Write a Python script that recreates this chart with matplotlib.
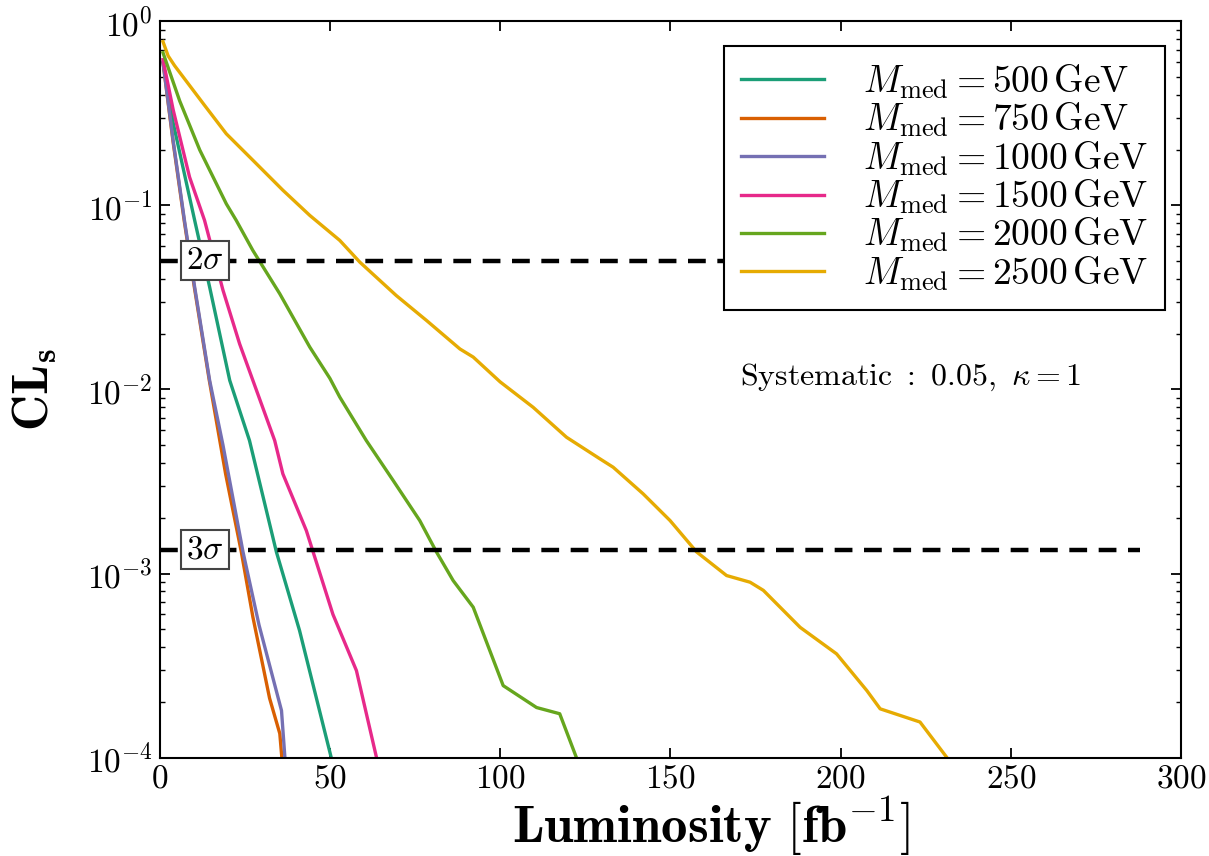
import matplotlib
matplotlib.use("Agg")
import matplotlib.pyplot as plt

plt.rcParams["font.family"] = "serif"
plt.rcParams["font.serif"] = ["cmr10"]
plt.rcParams["mathtext.fontset"] = "cm"
plt.rcParams["axes.formatter.use_mathtext"] = True

# luminosity [fb^-1] and CLs, one pair per mediator mass
lumi_500 = [1, 4, 10.3, 14.7, 20.6, 26.4, 34.3, 41.1, 50.4, 51.0]
cls_500 = [0.60, 0.28, 0.083, 0.036, 0.0112, 0.00528, 0.00131, 0.00049, 0.0001, 0.00009]

lumi_750 = [1, 4, 7.3, 10.2, 14.6, 19.4, 24.0, 27.4, 32.3, 35.3, 35.9, 36.3]
cls_750 = [0.60, 0.219, 0.081, 0.036, 0.0112, 0.00347, 0.00131, 0.00058, 0.00021, 0.000135, 0.0001, 0.00009]

lumi_1000 = [1, 4, 7.3, 10.3, 14.7, 18.6, 24.5, 29.2, 35.8, 36.8, 37.0]
cls_1000 = [0.60, 0.224, 0.083, 0.036, 0.0112, 0.0050, 0.00131, 0.000525, 0.00018, 0.0001, 0.00009]

lumi_1500 = [1, 4, 8.8, 13.2, 18.6, 23.5, 27.4, 33.8, 36.2, 43.1, 50.9, 57.8, 63.7, 64.3]
cls_1500 = [0.62, 0.33, 0.1426, 0.083, 0.0347, 0.0177, 0.0112, 0.00528, 0.00348, 0.00171,
            0.00060, 0.000297, 0.0001, 0.00009]

lumi_2000 = [1, 5.9, 11.8, 19.6, 22.5, 27.4, 35.3, 44.1, 50, 52.9, 60.7, 68.6, 76.4, 81.3,
             86.2, 92.1, 100.9, 110.7, 117.5, 122.4, 123.0]
cls_2000 = [0.676, 0.37, 0.20, 0.102, 0.083, 0.0569, 0.0331, 0.0170, 0.0115, 0.0091, 0.00528,
            0.0032, 0.00194, 0.00131, 0.000916, 0.000656, 0.000246, 0.000187, 0.000173, 0.0001, 0.00009]

lumi_2500 = [1, 2.5, 4.4, 13.2, 19.6, 27.4, 36.2, 44.1, 52.9, 58.8, 69.5, 78.4, 88.2, 92.1, 100,
             109.7, 119.5, 129.3, 133.2, 142, 149.9, 157.7, 166.5, 173.4, 177.3, 188.1, 198.8,
             207.7, 211.6, 223.3, 231.2, 232.0]
cls_2500 = [0.776, 0.65, 0.575, 0.35, 0.245, 0.176, 0.121, 0.0883, 0.0646, 0.0492, 0.0324, 0.0237,
            0.0166, 0.0150, 0.0110, 0.0080, 0.0055, 0.0042, 0.00378, 0.00271, 0.00194, 0.00131,
            0.000975, 0.000897, 0.00081, 0.00051, 0.000366, 0.000231, 0.000184, 0.000156,
            0.0001, 0.00009]

masses = [500, 750, 1000, 1500, 2000, 2500]
colors = ["#1b9e77", "#d95f02", "#7570b3", "#e7298a", "#66a61e", "#e6ab02"]
series = [(lumi_500, cls_500), (lumi_750, cls_750), (lumi_1000, cls_1000),
          (lumi_1500, cls_1500), (lumi_2000, cls_2000), (lumi_2500, cls_2500)]

sigma_levels = [0.05, 0.00135]
sigma_labels = [r"$2\sigma$", r"$3\sigma$"]

fig = plt.figure(figsize=(12.09, 8.56), dpi=100)
ax = fig.add_axes([0.132, 0.115, 0.845, 0.86])

for m, c, (x, y) in zip(masses, colors, series):
    ax.plot(x, y, color=c, lw=2.4,
            label=r"$M_{\rm med} = %d\,{\rm GeV}$" % m)

for lev, lab in zip(sigma_levels, sigma_labels):
    ax.hlines(lev, 0, 288, colors="black", linestyles=(0, (4, 2.6)), lw=3.2, zorder=3)
    ax.text(13.4, lev, lab, fontsize=24, ha="center", va="center", zorder=4,
            bbox=dict(facecolor="white", edgecolor="#444444", boxstyle="square,pad=0.15", lw=1.5))

ax.text(0.735, 0.516, r"$\mathrm{Systematic}\ :\ 0.05,\ \kappa = 1$", transform=ax.transAxes,
        fontsize=23, ha="center", va="center")

ax.set_yscale("log")
ax.set_xlim(0, 300)
ax.set_ylim(1e-4, 1)
ax.set_xticks([0, 50, 100, 150, 200, 250, 300])
ax.tick_params(which="both", direction="in", top=True, right=True, labelsize=24, pad=5)
ax.tick_params(which="major", length=7, width=1.3)
ax.tick_params(which="minor", length=3.5, width=1)
for s in ax.spines.values():
    s.set_linewidth(1.5)

ax.set_xlabel(r"$\mathbf{Luminosity\ [fb^{-1}]}$", fontsize=38)
ax.xaxis.set_label_coords(0.54, -0.05)
ax.set_ylabel(r"$\mathbf{CL_s}$", fontsize=36)
ax.yaxis.set_label_coords(-0.098, 0.5)

leg = ax.legend(loc="upper right", bbox_to_anchor=(0.984, 0.967), borderaxespad=0,
                fontsize=27, handlelength=2.2, handletextpad=1.05,
                borderpad=0.45, labelspacing=0.0, fancybox=False, framealpha=1)
leg.get_frame().set_edgecolor("black")
leg.get_frame().set_linewidth(1.5)

fig.savefig("out.png", dpi=100)
